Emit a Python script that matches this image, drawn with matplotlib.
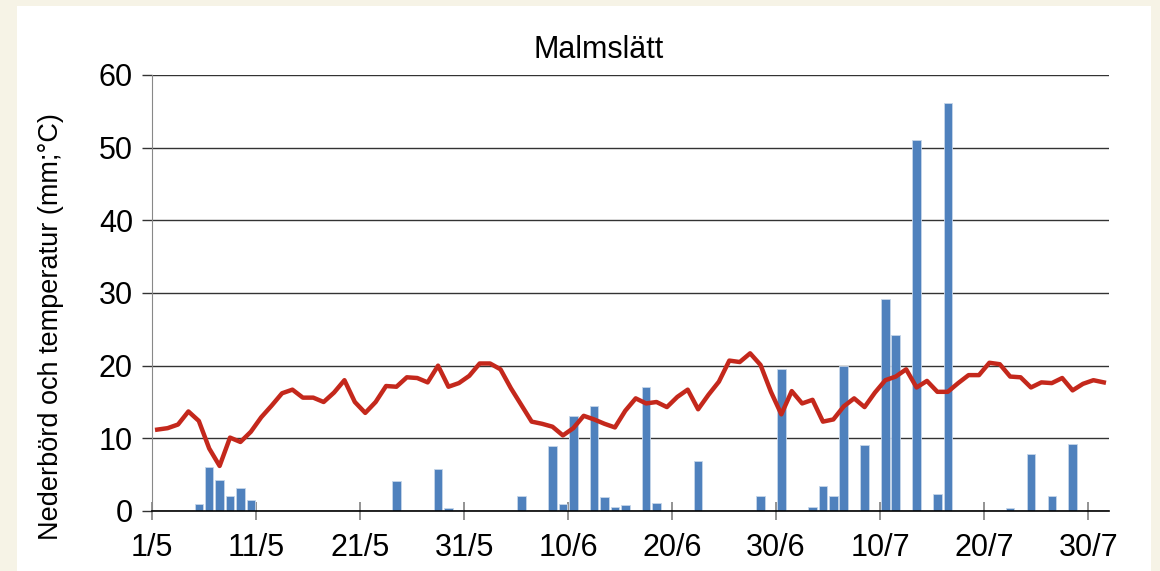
import matplotlib
matplotlib.use("Agg")
import matplotlib.pyplot as plt
from matplotlib.patches import Rectangle
import numpy as np

plt.rcParams["font.family"] = ["Liberation Sans", "DejaVu Sans"]

# daily values 1/5 .. 31/7 (92 days)
temp = [
    11.2, 11.4, 11.9, 13.7, 12.4, 8.6, 6.2, 10.1, 9.5, 10.9,
    12.9, 14.5, 16.2, 16.7, 15.6, 15.6, 15.0, 16.3, 18.0, 15.0,
    13.5, 15.0, 17.2, 17.1, 18.4, 18.3, 17.7, 20.0, 17.1, 17.6, 18.6,
    20.3, 20.3, 19.5, 16.9, 14.6, 12.3, 12.0, 11.6, 10.4, 11.4,
    13.1, 12.6, 12.0, 11.5, 13.8, 15.5, 14.8, 15.0, 14.3, 15.7,
    16.7, 14.0, 16.0, 17.8, 20.7, 20.5, 21.7, 20.1, 16.4, 13.3,
    16.5, 14.8, 15.3, 12.3, 12.6, 14.4, 15.5, 14.3, 16.3, 18.0,
    18.5, 19.5, 17.0, 17.9, 16.4, 16.4, 17.6, 18.7, 18.7, 20.4,
    20.2, 18.5, 18.4, 17.0, 17.7, 17.6, 18.3, 16.6, 17.5, 18.0, 17.7,
]
rain = [
    0, 0, 0, 0, 1.0, 6.0, 4.3, 2.1, 3.2, 1.5,
    0, 0, 0, 0, 0, 0, 0, 0, 0, 0,
    0, 0, 0, 4.1, 0, 0, 0, 5.8, 0.4, 0.2, 0,
    0, 0, 0, 0, 2.0, 0, 0, 8.9, 0.9, 13.1,
    0, 14.4, 1.9, 0.55, 0.8, 0, 17.0, 1.05, 0, 0,
    0, 6.9, 0, 0, 0, 0, 0, 2.0, 0, 19.6,
    0, 0, 0.5, 3.4, 2.0, 20.0, 0, 9.1, 0, 29.2,
    24.2, 0, 51.0, 0, 2.4, 56.2, 0, 0, 0, 0,
    0, 0.4, 0, 7.9, 0, 2.0, 0, 9.2, 0, 0, 0,
]
tick_days = [0, 10, 20, 30, 40, 50, 60, 70, 80, 90]
tick_labels = ["1/5", "11/5", "21/5", "31/5", "10/6", "20/6", "30/6", "10/7", "20/7", "30/7"]

W, H = 1160, 571
fig = plt.figure(figsize=(W / 100, H / 100), dpi=100, facecolor="#F6F3E6")
fig.patches.append(Rectangle((17 / W, 0), (1151 - 17) / W, (H - 6) / H,
                             transform=fig.transFigure, facecolor="white",
                             edgecolor="none", zorder=-10))

ax = fig.add_axes([152 / W, (H - 511) / H, (1109 - 152) / W, (511 - 75) / H])
ax.patch.set_alpha(0)

x = np.arange(len(temp)) + 0.5
ax.bar(x, rain, width=0.82, color="#4F81BD", edgecolor="#C6D6EA", linewidth=0.6, zorder=2)
ax.plot(x, temp, color="#C4281C", lw=3.2, zorder=3)

ax.set_xlim(0, 92)
ax.set_ylim(0, 60)
ax.set_yticks(range(0, 61, 10))
ax.set_xticks(tick_days)
ax.set_xticklabels(tick_labels)
ax.grid(axis="y", color="#333333", lw=1.0)
ax.set_axisbelow(True)

for s in ["top", "right"]:
    ax.spines[s].set_visible(False)
ax.spines["left"].set_color("#888888")
ax.spines["bottom"].set_color("black")
ax.spines["bottom"].set_linewidth(1.2)
ax.spines["bottom"].set_zorder(4)

ax.tick_params(axis="x", direction="inout", length=13, width=1.2, color="#808080",
               labelsize=22, pad=9)
ax.tick_params(axis="y", direction="out", length=7.2, width=1, color="#333333",
               labelsize=22, pad=6.5)

fig.text(599 / W, 1 - 58 / H, "Malmslätt", ha="center", va="baseline", fontsize=22)
fig.text(51 / W, 1 - 327 / H, "Nederbörd och temperatur (mm;°C)", rotation=90,
         ha="center", va="center", fontsize=19.5)

fig.savefig("out.png", dpi=100, facecolor=fig.get_facecolor())
